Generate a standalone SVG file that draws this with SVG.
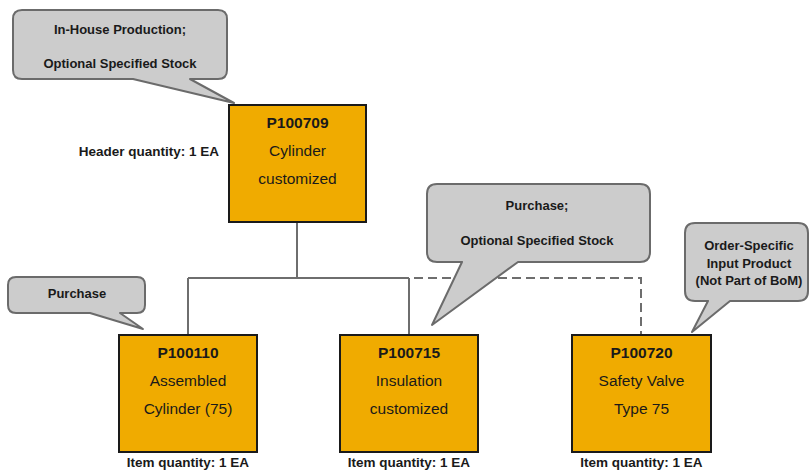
<svg xmlns="http://www.w3.org/2000/svg" width="811" height="470" viewBox="0 0 811 470">
<style>
.node{fill:#f0ab00;stroke:#1a1a1a;stroke-width:2}
.id{font-family:"Liberation Sans",Arial,sans-serif;font-size:15.5px;font-weight:bold;fill:#1a1a1a;text-anchor:middle}
.desc{font-family:"Liberation Sans",Arial,sans-serif;font-size:15.5px;fill:#1a1a1a;text-anchor:middle}
.lbl{font-family:"Liberation Sans",Arial,sans-serif;font-size:13px;font-weight:bold;fill:#1a1a1a}
.qty{font-size:13.5px}
.mid{text-anchor:middle}
.call{fill:#cccccc;stroke:#6b6b6b;stroke-width:2;stroke-linejoin:round}
.conn{fill:none;stroke:#6e6e6e;stroke-width:2}
.dash{stroke-dasharray:9,5}
</style>
<rect width="811" height="470" fill="#ffffff"/>
<g id="connectors">
<path class="conn" d="M297,222 V278 M188,278 H409 M188,278 V335 M409,278 V335"/>
<path class="conn dash" d="M414,278 H641 V335"/>
</g>
<g id="callout-top">
<path class="call" d="M22,10 H218 Q227,10 227,19 V70 Q227,79 218,79 H190 L234,103 L133,79 H22 Q13,79 13,70 V19 Q13,10 22,10 Z"/>
<text class="lbl mid" x="120" y="34">In-House Production;</text>
<text class="lbl mid" x="120" y="68">Optional Specified Stock</text>
</g>
<g id="callout-purchase">
<path class="call" d="M16,277 H137 Q145,277 145,285 V305 Q145,313 137,313 H120 L143,329 L90,313 H16 Q8,313 8,305 V285 Q8,277 16,277 Z"/>
<text class="lbl mid" x="77" y="298">Purchase</text>
</g>
<g id="callout-purchase2">
<path class="call" d="M437,184 H640 Q650,184 650,194 V252 Q650,262 640,262 H518 L432,325 L462,262 H437 Q427,262 427,252 V194 Q427,184 437,184 Z"/>
<text class="lbl mid" x="537" y="210">Purchase;</text>
<text class="lbl mid" x="537" y="245">Optional Specified Stock</text>
</g>
<g id="callout-order">
<path class="call" d="M695,223 H798 Q808,223 808,233 V291 Q808,301 798,301 H730 L692,332 L708,301 H695 Q685,301 685,291 V233 Q685,223 695,223 Z"/>
<text class="lbl mid" x="749" y="250">Order-Specific</text>
<text class="lbl mid" x="749" y="268">Input Product</text>
<text class="lbl mid" x="749" y="285">(Not Part of BoM)</text>
</g>
<g id="node-P100709">
<rect class="node" x="229" y="105" width="137" height="117"/>
<text class="id" x="297.5" y="127.5">P100709</text>
<text class="desc" x="297.5" y="155.5">Cylinder</text>
<text class="desc" x="297.5" y="183.5">customized</text>
<text class="lbl qty" x="219" y="156" text-anchor="end">Header quantity: 1 EA</text>
</g>
<g id="node-P100110">
<rect class="node" x="119" y="335" width="138" height="117"/>
<text class="id" x="188" y="357.5">P100110</text>
<text class="desc" x="188" y="385.5">Assembled</text>
<text class="desc" x="188" y="413.5">Cylinder (75)</text>
<text class="lbl qty mid" x="188" y="467">Item quantity: 1 EA</text>
</g>
<g id="node-P100715">
<rect class="node" x="340" y="335" width="138" height="117"/>
<text class="id" x="409" y="357.5">P100715</text>
<text class="desc" x="409" y="385.5">Insulation</text>
<text class="desc" x="409" y="413.5">customized</text>
<text class="lbl qty mid" x="409" y="467">Item quantity: 1 EA</text>
</g>
<g id="node-P100720">
<rect class="node" x="572" y="335" width="139" height="117"/>
<text class="id" x="641.5" y="357.5">P100720</text>
<text class="desc" x="641.5" y="385.5">Safety Valve</text>
<text class="desc" x="641.5" y="413.5">Type 75</text>
<text class="lbl qty mid" x="641.5" y="467">Item quantity: 1 EA</text>
</g>
</svg>
